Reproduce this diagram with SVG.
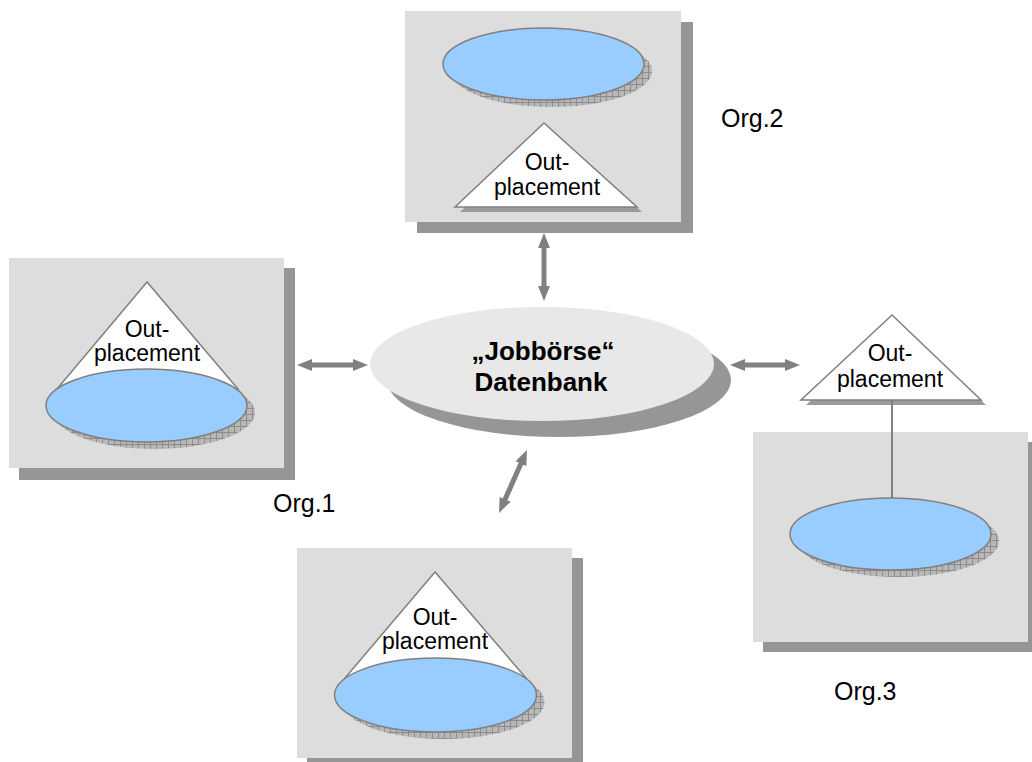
<svg xmlns="http://www.w3.org/2000/svg" width="1032" height="762" viewBox="0 0 1032 762">
<defs>
<style>
.box{fill:#dddddd}
.boxsh{fill:#969696}
.blue{fill:#99ccff;stroke:#7f7f7f;stroke-width:1.5}
.hatch{fill:url(#hatchp)}
.tri{fill:#ffffff;stroke:#7f7f7f;stroke-width:1.5}
.trish{fill:#9a9a9a}
.t{font-family:"Liberation Sans",Arial,sans-serif;font-size:23px;fill:#000;text-anchor:middle}
.lbl{font-family:"Liberation Sans",Arial,sans-serif;font-size:25px;fill:#000}
.bold{font-family:"Liberation Sans",Arial,sans-serif;font-size:26px;font-weight:bold;fill:#000;text-anchor:middle}
.arr{stroke:#808080;stroke-width:5;fill:none;marker-start:url(#ah);marker-end:url(#ah)}
</style>
<pattern id="hatchp" width="6" height="6" patternUnits="userSpaceOnUse">
<rect width="6" height="6" fill="#b8b8b8"/>
<path d="M0,0.5H6M0.5,0V6" stroke="#8c8c8c" stroke-width="1"/>
</pattern>
<marker id="ah" markerUnits="userSpaceOnUse" markerWidth="15" markerHeight="12" refX="3" refY="6" orient="auto-start-reverse" viewBox="0 0 15 12">
<path d="M0,0 L15,6 L0,12 z" fill="#808080"/>
</marker>
</defs>

<g id="org2">
<rect class="boxsh" x="417" y="22" width="276" height="211"/>
<rect class="box" x="405" y="11" width="276" height="211"/>
<ellipse class="hatch" cx="551.5" cy="71" rx="100.5" ry="36"/>
<ellipse class="blue" cx="543.5" cy="64" rx="100.5" ry="36"/>
<polygon class="trish" points="549,128 460,212 642,212"/>
<polygon class="tri" points="544,123 455,207 637,207"/>
<text class="t" x="547" y="170">Out-</text>
<text class="t" x="547" y="195">placement</text>
</g>
<text id="label-org2" class="lbl" x="721" y="127">Org.2</text>

<g id="org1">
<rect class="boxsh" x="19" y="268" width="276" height="212"/>
<rect class="box" x="9" y="258" width="275" height="210"/>
<polygon class="tri" points="147,282 57,389 238,389"/>
<ellipse class="hatch" cx="154.5" cy="412.5" rx="100.5" ry="36.5"/>
<ellipse class="blue" cx="146.5" cy="405.5" rx="100.5" ry="36.5"/>
<text class="t" x="147" y="337">Out-</text>
<text class="t" x="147" y="361">placement</text>
</g>
<text id="label-org1" class="lbl" x="273" y="512">Org.1</text>

<g id="org4">
<rect class="boxsh" x="307" y="558" width="276" height="210"/>
<rect class="box" x="297" y="548" width="275" height="210"/>
<polygon class="tri" points="435,572 345,678 526,678"/>
<ellipse class="hatch" cx="443.5" cy="702" rx="101" ry="37"/>
<ellipse class="blue" cx="435.5" cy="695" rx="101" ry="37"/>
<text class="t" x="435" y="625">Out-</text>
<text class="t" x="435" y="649">placement</text>
</g>

<g id="org3">
<rect class="boxsh" x="763" y="442" width="275" height="210"/>
<rect class="box" x="753" y="432" width="275" height="210"/>
<ellipse class="hatch" cx="898.5" cy="541" rx="100.5" ry="36"/>
<ellipse class="blue" cx="890.5" cy="534" rx="100.5" ry="36"/>
<polygon class="trish" points="897,320 806,405 986,405"/>
<polygon class="tri" points="892,315 801,400 981,400"/>
<text class="t" x="890" y="361">Out-</text>
<text class="t" x="890" y="387">placement</text>
</g>
<text id="label-org3" class="lbl" x="834" y="700">Org.3</text>

<g id="datenbank">
<ellipse cx="559" cy="380" rx="172" ry="57" fill="#969696"/>
<ellipse cx="542" cy="364" rx="172" ry="57" fill="#e8e8e8"/>
<text class="bold" x="543" y="360">„Jobbörse“</text>
<text class="bold" x="541" y="391">Datenbank</text>
</g>

<g id="connectors">
<line class="arr" x1="309" y1="365" x2="356" y2="365"/>
<line class="arr" x1="544" y1="245" x2="544" y2="289"/>
<line class="arr" x1="742" y1="365" x2="788" y2="365"/>
<line class="arr" x1="522.1" y1="461" x2="503.9" y2="502"/>
<line x1="892" y1="400" x2="892" y2="498" stroke="#808080" stroke-width="2"/>
</g>
</svg>
